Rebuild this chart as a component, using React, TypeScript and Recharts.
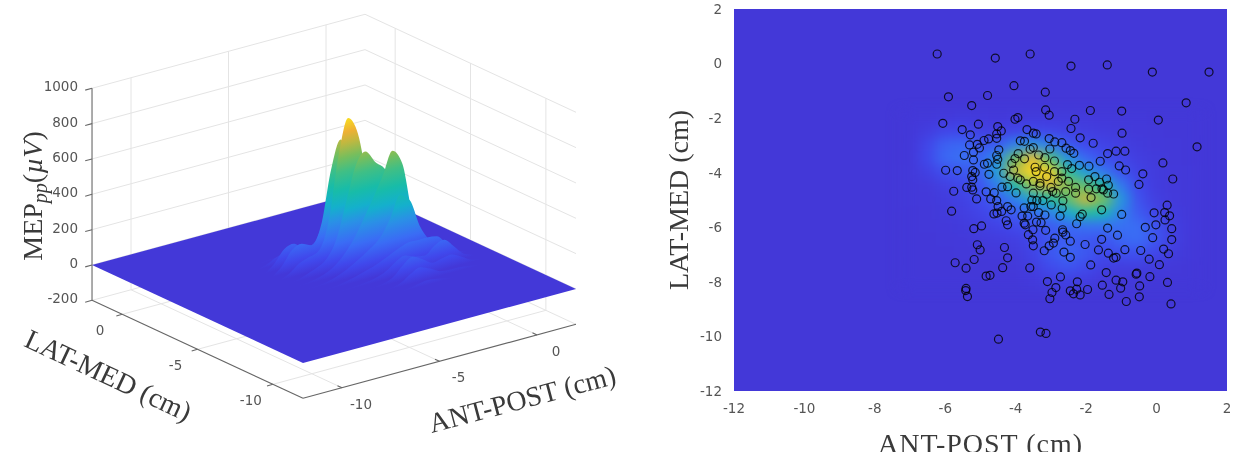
import React from 'react';
import { ComposedChart, ScatterChart, Scatter, Line, Area, XAxis, YAxis, ReferenceArea } from 'recharts';

const ANT_GRID = [-7, -6.5, -6, -5.5, -5, -4.5, -4, -3.5, -3, -2.5, -2, -1.5, -1, -0.5, 0, 0.5, 1];
const LAT_GRID = [-2, -2.5, -3, -3.5, -4, -4.5, -5, -5.5, -6, -6.5, -7, -7.5, -8];
const MEP_ROWS = [
  [0, 3, 8, 10, 7, 5, 7, 9, 10, 9, 7, 5, 3, 2, 1, 0, 0],
  [0, 18, 44, 50, 31, 25, 39, 49, 42, 31, 22, 15, 9, 5, 2, 1, 0],
  [1, 44, 109, 124, 83, 95, 189, 241, 175, 92, 56, 37, 22, 11, 5, 2, 1],
  [1, 49, 122, 144, 120, 221, 514, 674, 479, 236, 123, 74, 43, 21, 9, 4, 1],
  [2, 27, 68, 88, 110, 261, 614, 815, 711, 427, 254, 163, 83, 34, 14, 5, 2],
  [2, 6, 26, 47, 82, 176, 371, 566, 630, 556, 501, 379, 172, 53, 15, 6, 2],
  [2, 5, 14, 30, 59, 109, 182, 281, 384, 499, 625, 538, 243, 73, 22, 7, 2],
  [1, 4, 9, 21, 41, 69, 101, 139, 187, 278, 392, 349, 192, 96, 44, 15, 3],
  [1, 2, 5, 11, 22, 37, 53, 73, 97, 123, 144, 143, 144, 136, 80, 25, 5],
  [0, 1, 2, 5, 9, 15, 25, 47, 85, 106, 86, 77, 118, 135, 82, 26, 4],
  [0, 0, 1, 2, 3, 5, 12, 36, 88, 119, 90, 55, 65, 72, 44, 13, 2],
  [0, 0, 0, 0, 1, 1, 5, 21, 57, 80, 57, 27, 20, 20, 12, 4, 0],
  [0, 0, 0, 0, 0, 0, 0, 7, 19, 27, 19, 7, 2, 2, 1, 0, 0],
];

const ANT_LAT_STIM: [number, number][] = [
  [-6.23,0.35],[-4.58,0.2],[-3.59,0.35],[-2.43,-0.09],[-1.4,-0.05],[-0.12,-0.31],[1.49,-0.31],[0.84,-1.44],[1.15,-3.05],
  [-4.05,-0.81],[-5.91,-1.22],[-4.8,-1.17],[-3.16,-1.05],[-5.25,-1.54],[-3.15,-1.7],[-3.05,-1.89],[-1.88,-1.72],[-0.99,-1.74],
  [-4.02,-2.04],[-3.94,-1.98],[-2.32,-2.04],[0.05,-2.07],[-6.07,-2.19],[-5.06,-2.22],[-4.51,-2.31],[-5.52,-2.42],[-3.68,-2.42],
  [-2.43,-2.38],[-0.98,-2.55],[-4.41,-2.47],[-4.54,-2.58],[-5.29,-2.61],[-3.5,-2.55],[-3.42,-2.58],[-4.54,-2.74],[-4.77,-2.76],
  [-4.9,-2.82],[-5.09,-2.96],[-5.31,-2.98],[-5.03,-3.09],[-3.87,-2.83],[-3.75,-2.85],[-3.05,-2.75],[-2.89,-2.87],[-2.69,-2.9],
  [-2.17,-2.72],[-1.8,-2.92],[-3.5,-3.08],[-3.59,-3.14],[-3.03,-3.13],[-2.57,-3.1],[-2.45,-3.19],[-2.35,-3.29],[-4.48,-3.16],
  [-5.2,-3.25],[-5.46,-3.37],[-3.93,-3.3],[-3.35,-3.35],[-4.02,-3.48],[-3.75,-3.49],[-4.54,-3.37],[-4.51,-3.51],[-5.2,-3.53],
  [-1.39,-3.3],[-1.15,-3.21],[-0.9,-3.21],[-1.6,-3.58],[0.18,-3.64],[-2.9,-3.57],[-3.17,-3.45],[-4.8,-3.65],[-4.89,-3.69],
  [-4.54,-3.69],[-4.11,-3.66],[-2.53,-3.7],[-2.19,-3.73],[-1.92,-3.76],[-1.06,-3.75],[-0.88,-3.9],[-2.41,-3.85],[-5.99,-3.91],
  [-5.66,-3.92],[-5.22,-3.92],[-5.15,-3.99],[-4.34,-4.02],[-4.06,-3.9],[-3.45,-3.8],[-3.18,-3.8],[-3.42,-3.96],[-2.9,-3.96],
  [-2.69,-3.96],[-0.39,-4.04],[-4.76,-4.06],[-4.16,-4.14],[-3.94,-4.2],[-5.25,-4.14],[-5.22,-4.26],[0.46,-4.23],[-1.75,-4.14],
  [-1.93,-4.26],[-1.42,-4.23],[-1.62,-4.35],[-0.5,-4.43],[-2.5,-4.32],[-2.79,-4.32],[-2.69,-4.2],[-3.12,-4.14],[-3.7,-4.41],
  [-3.5,-4.32],[-3.31,-4.39],[-3.31,-4.48],[-3.87,-4.26],[-4.39,-4.53],[-5.39,-4.54],[-5.25,-4.53],[-5.22,-4.63],[-5.76,-4.68],
  [-4.84,-4.7],[-4.23,-4.51],[-3.99,-4.74],[-3,-4.54],[-2.95,-4.69],[-2.58,-4.69],[-2.3,-4.54],[-2.3,-4.75],[-1.93,-4.6],
  [-1.71,-4.59],[-1.55,-4.59],[-1.51,-4.63],[-1.37,-4.46],[-1.39,-4.75],[-1.22,-4.78],[-3.5,-4.75],[-3.12,-4.79],[-2.85,-4.75],
  [-2.66,-5.03],[-4.61,-4.73],[-4.71,-4.96],[-5.11,-4.96],[-4.54,-5.02],[-3.54,-5],[-3.4,-5.02],[-3.23,-5.02],[-2.99,-5.18],
  [-1.86,-4.91],[-3.5,-5.24],[-3.57,-5.24],[-3.76,-5.29],[-3.35,-5.46],[-3.17,-5.55],[-2.68,-5.3],[-1.56,-5.36],[-5.82,-5.41],
  [-4.5,-5.24],[-4.23,-5.24],[-4.13,-5.36],[-4.4,-5.42],[-4.53,-5.48],[-4.62,-5.51],[-3.82,-5.59],[-3.66,-5.59],[-2.74,-5.59],
  [-2.11,-5.52],[-2.17,-5.61],[-0.99,-5.53],[-0.07,-5.47],[0.3,-5.19],[0.23,-5.46],[0.37,-5.58],[0.24,-5.73],[-0.02,-5.91],
  [-0.32,-6],[0.43,-6.05],[-4.27,-5.76],[-4.23,-5.91],[-4.97,-5.95],[-5.19,-6.05],[-3.76,-5.85],[-3.73,-5.91],[-3.41,-5.81],
  [-3.28,-5.83],[-3.15,-6.11],[-2.27,-5.87],[-1.39,-6.03],[-2.67,-6.09],[-2.66,-6.18],[-2.58,-6.28],[-3.51,-6.09],[-3.64,-6.27],
  [-3.52,-6.46],[-1.11,-6.29],[-0.11,-6.38],[0.43,-6.45],[-1.56,-6.44],[-2.89,-6.4],[-2.45,-6.51],[-2.03,-6.63],[-5.09,-6.64],
  [-5.01,-6.83],[-4.32,-6.74],[-3.5,-6.68],[-2.93,-6.58],[-3.05,-6.68],[-3.19,-6.86],[-1.65,-6.83],[-1.37,-6.95],[-1.22,-7.13],
  [-1.15,-7.1],[-0.9,-6.82],[-0.45,-6.85],[0.2,-6.8],[0.34,-6.97],[-0.21,-7.17],[0.08,-7.37],[-2.63,-6.91],[-2.45,-7.1],
  [-1.87,-7.38],[-4.23,-7.12],[-5.18,-7.18],[-5.72,-7.3],[-5.41,-7.5],[-4.37,-7.48],[-3.6,-7.49],[-4.73,-7.76],[-4.84,-7.79],
  [-1.43,-7.66],[-0.56,-7.68],[-0.58,-7.72],[-0.19,-7.81],[-2.73,-7.82],[-3.1,-7.99],[-2.25,-8],[-1.15,-7.94],[-0.96,-8],
  [0.31,-8.02],[-1.54,-8.12],[-1.02,-8.23],[-0.48,-8.15],[-2.86,-8.21],[-5.41,-8.24],[-5.42,-8.32],[-5.37,-8.54],[-2.27,-8.27],
  [-2.45,-8.33],[-2.36,-8.44],[-2.17,-8.48],[-1.96,-8.28],[-2.97,-8.39],[-3.03,-8.62],[-1.35,-8.46],[-0.86,-8.72],[-0.49,-8.55],
  [0.41,-8.81],[-3.3,-9.84],[-3.14,-9.89],[-4.49,-10.1],
];

const HEAT_TICKS_X = [-12, -10, -8, -6, -4, -2, 0, 2];
const HEAT_TICKS_Y = [2, 0, -2, -4, -6, -8, -10, -12];
const Z_TICKS = [-200, 0, 200, 400, 600, 800, 1000];
const SURF_TICKS = [-10, -5, 0];

const PARULA: [number, string][] = [
  [0, '#4338d8'], [60, '#4048ec'], [150, '#3a6cf5'], [250, '#2a90e6'], [330, '#14b0cc'], [420, '#18bca8'],
  [520, '#40bf85'], [600, '#78be5c'], [680, '#c0b840'], [740, '#eeb034'], [815, '#f8dc20'],
];
const ZMAX = 815;

const hexRgb = (h: string) => [1, 3, 5].map((i) => parseInt(h.slice(i, i + 2), 16));
const parula = (z: number) => {
  if (z <= 0) return PARULA[0][1];
  for (let i = 1; i < PARULA.length; i++) {
    if (z <= PARULA[i][0]) {
      const [z0, c0] = PARULA[i - 1];
      const [z1, c1] = PARULA[i];
      const t = (z - z0) / (z1 - z0);
      const a = hexRgb(c0), b = hexRgb(c1);
      return `rgb(${a.map((v, k) => Math.round(v + (b[k] - v) * t)).join(',')})`;
    }
  }
  return PARULA[PARULA.length - 1][1];
};

const W = 620, H = 452;
// oblique view of the (ant, lat, MEP) box onto the drawing plane of the left chart
const toU = (ant: number, lat: number) => 303 - (lat + 12) * 15.07 + (ant + 12) * 19.5;
const toV = (ant: number, lat: number, z: number) => 363 - (lat + 12) * 7 - (ant + 12) * 5.286 - z * 0.1767;
const pt = (ant: number, lat: number, z: number) => ({ u: toU(ant, lat), h: H - toV(ant, lat, z) });

const segments: { data: { u: number; h: number }[]; axis: boolean }[] = [];
const seg = (a: [number, number, number], b: [number, number, number], axis = false) =>
  segments.push({ data: [pt(...a), pt(...b)], axis });
for (const z of [...Z_TICKS]) {
  seg([-12, 2, z], [2, 2, z]);
  seg([2, 2, z], [2, -12, z]);
}
for (const t of SURF_TICKS) {
  seg([t, 2, -200], [t, 2, 1000]);
  seg([2, t, -200], [2, t, 1000]);
  seg([t, 2, -200], [t, -12, -200]);
  seg([-12, t, -200], [2, t, -200]);
}
seg([-12, 2, -200], [-12, 2, 1000], true);
seg([-12, 2, -200], [-12, -12, -200], true);
seg([-12, -12, -200], [2, -12, -200], true);
for (const z of Z_TICKS) seg([-12, 2, z], [-12.35, 2, z], true);
for (const t of SURF_TICKS) {
  seg([-12, t, -200], [-12.3, t, -200], true);
  seg([t, -12, -200], [t, -11.7, -200], true);
}

const left = pt(-12, 2, 0), front = pt(-12, -12, 0), back = pt(2, 2, 0), right = pt(2, -12, 0);
const onEdge = (p: any, q: any, u: number) => p.h + ((q.h - p.h) * (u - p.u)) / (q.u - p.u);
const floorData = [
  { u: left.u, r: [left.h, left.h] },
  { u: front.u, r: [front.h, onEdge(left, back, front.u)] },
  { u: back.u, r: [onEdge(front, right, back.u), back.h] },
  { u: right.u, r: [right.h, right.h] },
];

const slices = LAT_GRID.map((lat, i) => ({
  lat,
  id: `slice${i}`,
  data: ANT_GRID.map((ant, j) => ({
    u: toU(ant, lat),
    r: [H - toV(ant, lat, 0), H - toV(ant, lat, MEP_ROWS[i][j])],
  })),
}));

const heatCells = LAT_GRID.flatMap((lat, i) => ANT_GRID.map((ant, j) => ({ ant, lat, mep: MEP_ROWS[i][j] })));
const stimPoints = ANT_LAT_STIM.map(([ant, lat]) => ({ ant, lat }));

const tickFont = { fontFamily: '"DejaVu Sans"', fontSize: 13.5, fill: '#555' };
const titleFont = { fontFamily: '"Liberation Serif"', fontSize: 28, fill: '#3a3a3a' };

const zLabels = Z_TICKS.map((z) => ({ ...pt(-12, 2, z), text: String(z), dx: -14, dy: 3, anchor: 'end' }));
const latLabels = SURF_TICKS.map((t) => ({ ...pt(-12, t, -200), text: String(t), dx: -22, dy: 21, anchor: 'middle' }));
const antLabels = SURF_TICKS.map((t) => ({ ...pt(t, -12, -200), text: String(t), dx: 19, dy: 21, anchor: 'middle' }));
const surfTitles = [
  { u: 107, h: H - 378, text: 'LAT-MED (cm)', rot: 25 },
  { u: 523, h: H - 402, text: 'ANT-POST (cm)', rot: -15 },
];
const mepTitle = [{ u: 36, h: H - 196 }];

const TickText = (p: any) => (
  <text x={p.cx + p.payload.dx} y={p.cy + p.payload.dy} textAnchor={p.payload.anchor} {...tickFont}>
    {p.payload.text}
  </text>
);
const TitleText = (p: any) => (
  <text x={p.cx} y={p.cy} textAnchor="middle" dominantBaseline="middle" transform={`rotate(${p.payload.rot} ${p.cx} ${p.cy})`} {...titleFont}>
    {p.payload.text}
  </text>
);
const MepText = (p: any) => (
  <text x={p.cx} y={p.cy} textAnchor="middle" dominantBaseline="middle" transform={`rotate(-90 ${p.cx} ${p.cy})`} {...titleFont}>
    MEP
    <tspan dy={6} fontSize={20} fontStyle="italic">pp</tspan>
    <tspan dy={-6}>(</tspan>
    <tspan fontStyle="italic">{'\u00b5V'}</tspan>)
  </text>
);

const normalLen = Math.hypot(5.286, 19.5);
const SliceGradient = ({ id, lat }: { id: string; lat: number }) => {
  const x0 = toU(-3, lat), y0 = toV(-3, lat, 0);
  const d = ZMAX * 0.1767 * (19.5 / normalLen);
  return (
    <linearGradient id={id} gradientUnits="userSpaceOnUse" x1={x0} y1={y0}
      x2={x0 - (5.286 / normalLen) * d} y2={y0 - (19.5 / normalLen) * d}>
      {PARULA.map(([z, c]) => <stop key={z} offset={z / ZMAX} stopColor={c} />)}
    </linearGradient>
  );
};

const HeatCell = (p: any) => (
  <rect x={p.cx - 9.6} y={p.cy - 7.6} width={19.2} height={15.2} fill={parula(p.payload.mep * 1.12)} />
);
const StimCircle = (p: any) => (
  <circle cx={p.cx} cy={p.cy} r={4} fill="none" stroke="#000" strokeOpacity={0.8} strokeWidth={1.2} />
);

const Surface3D = () => (
  <ComposedChart width={W} height={H} margin={{ top: 0, right: 0, bottom: 0, left: 0 }}>
    <defs>
      {slices.map((s) => <SliceGradient key={s.id} id={s.id} lat={s.lat} />)}
    </defs>
    <XAxis hide type="number" dataKey="u" domain={[0, W]} allowDataOverflow />
    <YAxis hide type="number" dataKey="h" domain={[0, H]} allowDataOverflow />
    {segments.map((s, i) => (
      <Line key={i} data={s.data} dataKey="h" dot={false} activeDot={false} legendType="none" isAnimationActive={false}
        stroke={s.axis ? '#666' : '#e4e4e4'} strokeWidth={s.axis ? 1.1 : 1} {...({ zIndex: 50 } as any)} />
    ))}
    <Area data={floorData} dataKey="r" type="linear" stroke="none" fill="#4338d8" fillOpacity={1} isAnimationActive={false} dot={false} activeDot={false} />
    {slices.map((s) => (
      <Area key={s.id} data={s.data} dataKey="r" type="monotone" stroke="none" fill={`url(#${s.id})`} fillOpacity={1}
        isAnimationActive={false} dot={false} activeDot={false} />
    ))}
    <Scatter data={[...zLabels, ...latLabels, ...antLabels]} dataKey="h" shape={TickText} isAnimationActive={false} />
    <Scatter data={surfTitles} dataKey="h" shape={TitleText} isAnimationActive={false} />
    <Scatter data={mepTitle} dataKey="h" shape={MepText} isAnimationActive={false} />
  </ComposedChart>
);

const HeatMap = () => (
  <ScatterChart width={1233} height={H} margin={{ top: 9, right: 6, bottom: 31, left: 674 }}>
    <defs>
      <filter id="heatBlur" x="-20%" y="-20%" width="140%" height="140%" colorInterpolationFilters="sRGB">
        <feGaussianBlur stdDeviation="6.5 5.5" />
      </filter>
    </defs>
    <XAxis type="number" dataKey="ant" domain={[-12, 2]} ticks={HEAT_TICKS_X} interval={0} height={30} axisLine={false} tickLine={false}
      tick={tickFont} tickMargin={6}
      label={{ value: 'ANT-POST (cm)', position: 'bottom', offset: 12, style: { ...titleFont, letterSpacing: 1 } }} />
    <YAxis type="number" dataKey="lat" domain={[-12, 2]} ticks={HEAT_TICKS_Y} interval={0} width={60} axisLine={false} tickLine={false}
      tick={tickFont} tickMargin={6}
      label={{ value: 'LAT-MED (cm)', angle: -90, position: 'left', offset: -4, style: { ...titleFont, textAnchor: 'middle' } }} />
    <ReferenceArea x1={-12} x2={2} y1={-12} y2={2} fill="#4338d8" fillOpacity={1} stroke="none" />
    <Scatter className="heat-layer" data={heatCells} shape={HeatCell} isAnimationActive={false} />
    <Scatter data={stimPoints} shape={StimCircle} isAnimationActive={false} />
  </ScatterChart>
);

export default function App() {
  return (
    <div style={{ position: 'absolute', left: 0, top: 0, width: 1233, height: H, background: '#fff', overflow: 'hidden', filter: 'blur(0.5px)' }}>
      <style>{`.heat-layer{filter:url(#heatBlur)}`}</style>
      <div style={{ position: 'absolute', left: 0, top: 0 }}><HeatMap /></div>
      <div style={{ position: 'absolute', left: 0, top: 0 }}><Surface3D /></div>
    </div>
  );
}
